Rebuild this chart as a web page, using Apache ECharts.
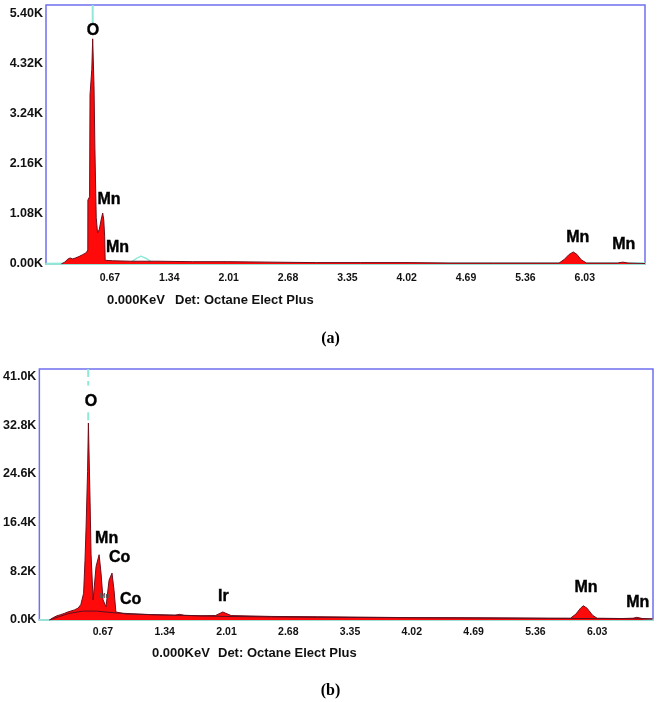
<!DOCTYPE html>
<html>
<head>
<meta charset="utf-8">
<script src="https://cdn.jsdelivr.net/npm/echarts@6/dist/echarts.min.js"></script>
<style>html,body{margin:0;padding:0;background:#fff;}#c{width:661px;height:702px;}</style>
</head>
<body>
<div id="c"></div>
<script>
// ---- tick labels ----
const xTicks = [0.67, 1.34, 2.01, 2.68, 3.35, 4.02, 4.69, 5.36, 6.03];
const yTicksA = [0, 1.08, 2.16, 3.24, 4.32, 5.40];
const yTicksB = [0, 8.2, 16.4, 24.6, 32.8, 41.0];

// ---- spectrum (a): [keV, counts in K] ----
const spectrumA = [[0.12,0],[0.16,0.04],[0.19,0.10],[0.22,0.13],[0.25,0.11],[0.28,0.13],[0.32,0.16],[0.36,0.20],[0.40,0.24],
  [0.42,0.30],[0.421,1.38],[0.44,1.45],[0.445,3.65],[0.465,4.2],[0.475,4.86],[0.49,3.85],[0.50,2.5],[0.515,1.0],[0.53,0.67],
  [0.55,0.75],[0.57,0.95],[0.588,1.10],[0.60,0.95],[0.61,0.6],[0.616,0.08],[0.7,0.07],[0.9,0.06],[1.2,0.06],[1.6,0.05],
  [2.0,0.05],[2.5,0.04],[3.0,0.03],[3.5,0.03],[4.0,0.03],[4.5,0.02],[5.0,0.02],[5.5,0.02],[5.74,0.02],[5.80,0.10],
  [5.85,0.20],[5.90,0.26],[5.94,0.21],[5.99,0.09],[6.05,0.02],[6.4,0.02],[6.46,0.04],[6.52,0.02],[6.71,0.01]];
const overlayA = [[-0.05,0.01],[0.5,0.02],[0.9,0.03],[0.97,0.12],[1.02,0.17],[1.08,0.12],[1.14,0.04],[1.3,0.03],[2,0.03],[3,0.02],[6.71,0.02]];
const markerA = [[0.475,5.59],[0.475,5.2]];
const labelsA = [[0.478,5.03,'O'],[0.66,1.38,'Mn'],[0.755,0.345,'Mn'],[5.95,0.58,'Mn'],[6.47,0.41,'Mn']];

// ---- spectrum (b) ----
const spectrumB = [[0.09,0],[0.13,0.4],[0.17,0.7],[0.21,0.9],[0.25,1.1],[0.28,1.3],[0.32,1.5],[0.36,1.7],[0.40,2.0],[0.43,2.6],
  [0.46,4.5],[0.475,10],[0.487,15.7],[0.503,25],[0.512,33.2],[0.53,20],[0.541,11],[0.563,3.4],[0.595,9],[0.628,11.0],
  [0.649,7.9],[0.671,3.4],[0.703,2.2],[0.736,6.7],[0.768,7.9],[0.79,5],[0.81,1.35],[0.92,1.0],[1.19,0.9],[1.45,0.8],
  [1.5,0.95],[1.55,0.8],[1.73,0.7],[1.89,0.75],[1.97,1.35],[2.06,0.75],[2.5,0.6],[3.0,0.55],[3.35,0.5],[4.0,0.4],
  [4.5,0.38],[5.0,0.35],[5.5,0.3],[5.74,0.3],[5.8,1.0],[5.85,2.0],[5.88,2.4],[5.92,2.0],[5.98,0.8],[6.03,0.3],
  [6.3,0.25],[6.42,0.3],[6.46,0.45],[6.52,0.25],[6.63,0.15]];
const backgroundB = [[0.09,0],[0.2,0.6],[0.3,1.1],[0.45,1.5],[0.6,1.5],[0.8,1.2],[1.2,0.9],[2.0,0.6],[3.0,0.45],[4.5,0.35],[6.63,0.2]];
const markerB1 = [[0.51,42.3],[0.51,39.5]];
const markerB2 = [[0.51,35.0],[0.51,33.3]];
const labelsB = [[0.54,36.8,'O'],[0.71,13.7,'Mn'],[0.85,10.6,'Co'],[0.97,3.5,'Co'],[1.975,3.9,'Ir'],[5.91,5.4,'Mn'],[6.47,3.0,'Mn']];
const smallLabelsB = [[0.69,4.0,'Mn']];

const FONT = 'Liberation Sans, Arial, sans-serif';
const chart = echarts.init(document.getElementById('c'), null, {renderer:'canvas'});

function xAxisDef(idx, min, max, margin){
  return {type:'value', gridIndex:idx, min:min, max:max,
    axisLine:{show:true, onZero:false, lineStyle:{color:'#9adfd8', width:2}},
    axisTick:{show:false},
    splitLine:{show:false},
    axisLabel:{customValues:xTicks, margin:margin, color:'#111', fontFamily:FONT, fontWeight:'bold', fontSize:10.5,
      formatter:v=>v.toFixed(2)}};
}
function yAxisDef(idx, max, ticks, dec){
  return {type:'value', gridIndex:idx, min:0, max:max,
    axisLine:{show:false}, axisTick:{show:false}, splitLine:{show:false},
    axisLabel:{customValues:ticks, margin:3, color:'#111', fontFamily:FONT, fontWeight:'bold', fontSize:12.5,
      formatter:v=>v.toFixed(dec)+'K'}};
}
function specSeries(idx, data){
  return {type:'line', xAxisIndex:idx, yAxisIndex:idx, data:data, symbol:'none', silent:true,
    lineStyle:{color:'#6e0f1c', width:1}, areaStyle:{color:'#ff0a0a', opacity:1}, z:3};
}
function plainLine(idx, data, color, width, type, z){
  return {type:'line', xAxisIndex:idx, yAxisIndex:idx, data:data, symbol:'none', silent:true,
    lineStyle:{color:color, width:width, type:type||'solid'}, z:z||4};
}
function labelSeries(idx, data, size, color){
  const c = color || '#000';
  return {type:'scatter', xAxisIndex:idx, yAxisIndex:idx, symbolSize:0, silent:true, z:10,
    itemStyle:{opacity:1},
    data:data.map(d=>({value:[d[0],d[1]], name:d[2]})),
    label:{show:true, position:'inside', formatter:p=>p.name, color:c, opacity:1,
      textBorderColor:c, textBorderWidth:size > 10 ? 0.4 : 0,
      fontFamily:FONT, fontWeight:'bold', fontSize:size}};
}

chart.setOption({
  animation:false,
  backgroundColor:'#fff',
  grid:[
    {left:46, top:5, right:16, bottom:438, show:true, borderColor:'#6f6ff0', borderWidth:1.5, backgroundColor:'#fff'},
    {left:38, top:369, right:8, bottom:82, show:true, borderColor:'#6f6ff0', borderWidth:1.5, backgroundColor:'#fff'}
  ],
  xAxis:[xAxisDef(0, -0.052, 6.71, 9), xAxisDef(1, -0.02, 6.636, 7)],
  yAxis:[yAxisDef(0, 5.59, yTicksA, 2), yAxisDef(1, 42.3, yTicksB, 1)],
  title:[
    {text:'0.000KeV', left:107, top:294, textStyle:{fontFamily:FONT, fontWeight:'bold', fontSize:13, color:'#111'}, padding:0},
    {text:'Det: Octane Elect Plus', left:175, top:294, textStyle:{fontFamily:FONT, fontWeight:'bold', fontSize:13, color:'#111'}, padding:0},
    {text:'(a)', left:'center', top:331, textStyle:{fontFamily:'Liberation Serif, Times New Roman, serif', fontWeight:'bold', fontSize:16, color:'#000'}, padding:0},
    {text:'0.000KeV', left:152, top:647, textStyle:{fontFamily:FONT, fontWeight:'bold', fontSize:13, color:'#111'}, padding:0},
    {text:'Det: Octane Elect Plus', left:218, top:647, textStyle:{fontFamily:FONT, fontWeight:'bold', fontSize:13, color:'#111'}, padding:0},
    {text:'(b)', left:'center', top:683, textStyle:{fontFamily:'Liberation Serif, Times New Roman, serif', fontWeight:'bold', fontSize:16, color:'#000'}, padding:0}
  ],
  series:[
    plainLine(0, overlayA, '#8fe8d8', 1.5, 'solid', 2),
    specSeries(0, spectrumA),
    plainLine(0, markerA, '#8fe8d8', 2, 'solid', 4),
    labelSeries(0, labelsA, 16),
    specSeries(1, spectrumB),
    plainLine(1, backgroundB, '#5a1020', 1, 'solid', 4),
    plainLine(1, markerB1, '#8fe8d8', 2, 'dashed', 4),
    plainLine(1, markerB2, '#8fe8d8', 2, 'dashed', 4),
    labelSeries(1, labelsB, 16),
    labelSeries(1, smallLabelsB, 7, '#555')
  ]
});
</script>
</body>
</html>
